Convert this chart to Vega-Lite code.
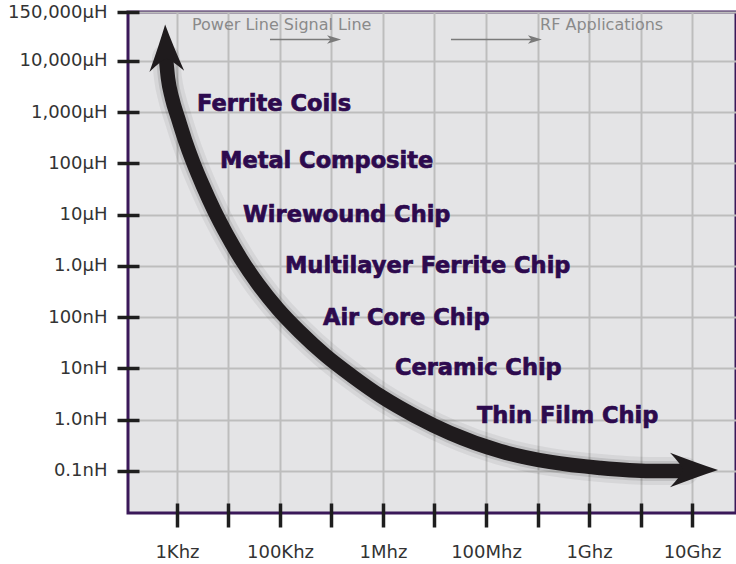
{
  "$schema": "https://vega.github.io/schema/vega-lite/v6.json",
  "autosize": {"type": "none"},
  "padding": {"left": 128, "top": 12, "right": 0, "bottom": 51},
  "width": 608,
  "height": 501,
  "background": "white",
  "datasets": {
    "curve": [
      {"x": -0.214, "y": 8.059},
      {"x": -0.175, "y": 7.668},
      {"x": -0.097, "y": 7.278},
      {"x": 0.019, "y": 6.888},
      {"x": 0.155, "y": 6.459},
      {"x": 0.311, "y": 6.029},
      {"x": 0.505, "y": 5.561},
      {"x": 0.718, "y": 5.093},
      {"x": 0.971, "y": 4.605},
      {"x": 1.243, "y": 4.137},
      {"x": 1.573, "y": 3.649},
      {"x": 1.961, "y": 3.161},
      {"x": 2.388, "y": 2.712},
      {"x": 2.874, "y": 2.263},
      {"x": 3.398, "y": 1.854},
      {"x": 3.981, "y": 1.444},
      {"x": 4.621, "y": 1.073},
      {"x": 5.301, "y": 0.741},
      {"x": 6.272, "y": 0.39},
      {"x": 7.243, "y": 0.176},
      {"x": 8.214, "y": 0.059},
      {"x": 9.184, "y": 0.0},
      {"x": 9.864, "y": 0.0}
    ],
    "heads": [
      {"end": "top", "x": -0.214, "y": 8.254},
      {"end": "bottom", "x": 10.039, "y": 0.02}
    ],
    "labels": [
      {"label": "Ferrite Coils", "x": 0.388, "y": 7.02},
      {"label": "Metal Composite", "x": 0.835, "y": 5.91},
      {"label": "Wirewound Chip", "x": 1.282, "y": 4.86},
      {"label": "Multilayer Ferrite Chip", "x": 2.097, "y": 3.86},
      {"label": "Air Core Chip", "x": 2.835, "y": 2.85},
      {"label": "Ceramic Chip", "x": 4.233, "y": 1.87},
      {"label": "Thin Film Chip", "x": 5.825, "y": 0.94}
    ],
    "notes": [
      {"label": "Power Line Signal Line", "x": 0.291, "y": 8.605},
      {"label": "RF Applications", "x": 7.049, "y": 8.605}
    ],
    "noteArrows": [
      {"x": 1.806, "x2": 3.05, "y": 8.42},
      {"x": 5.32, "x2": 6.95, "y": 8.42}
    ]
  },
  "encoding": {
    "x": {
      "field": "x",
      "type": "quantitative",
      "scale": {"domain": [-0.951, 10.854], "nice": false, "zero": false},
      "axis": {
        "title": null,
        "values": [0, 1, 2, 3, 4, 5, 6, 7, 8, 9, 10],
        "labelExpr": "['1Khz','','100Khz','','1Mhz','','100Mhz','','1Ghz','','10Ghz'][datum.value]",
        "domain": false,
        "offset": -10,
        "tickSize": 24,
        "tickWidth": 3.5,
        "tickColor": "#1e1e1e",
        "labelFont": "DejaVu Sans",
        "labelFontSize": 18,
        "labelColor": "#333333",
        "labelPadding": 16,
        "labelOverlap": false,
        "grid": true,
        "gridColor": "#bdbdbd",
        "gridWidth": 2
      }
    },
    "y": {
      "field": "y",
      "type": "quantitative",
      "scale": {"domain": [-0.82, 8.956], "nice": false, "zero": false},
      "axis": {
        "title": null,
        "values": [0, 1, 2, 3, 4, 5, 6, 7, 8, 8.95],
        "labelExpr": "['0.1nH','1.0nH','10nH','100nH','1.0µH','10µH','100µH','1,000µH','10,000µH'][datum.value] || '150,000µH'",
        "domain": false,
        "offset": -11,
        "tickSize": 22,
        "tickWidth": 3.5,
        "tickColor": "#1e1e1e",
        "labelFont": "DejaVu Sans",
        "labelFontSize": 18,
        "labelColor": "#333333",
        "labelPadding": 10,
        "labelOverlap": false,
        "grid": true,
        "gridColor": "#bdbdbd",
        "gridWidth": 2
      }
    }
  },
  "layer": [
    {
      "data": {"name": "curve"},
      "mark": {"type": "line", "interpolate": "monotone", "strokeWidth": 28, "color": "#000000", "opacity": 0.06, "strokeCap": "round"}
    },
    {
      "data": {"name": "curve"},
      "mark": {"type": "line", "interpolate": "monotone", "strokeWidth": 20, "color": "#000000", "opacity": 0.1, "strokeCap": "round"}
    },
    {
      "data": {"name": "curve"},
      "mark": {"type": "line", "interpolate": "monotone", "strokeWidth": 14.5, "color": "#1f1b1d"}
    },
    {
      "data": {"name": "heads"},
      "transform": [{"filter": "datum.end == 'top'"}],
      "mark": {"type": "point", "filled": true, "opacity": 1, "color": "#1f1b1d", "size": 2209, "angle": -92,
        "shape": "M1,0 Q0.1,-0.3 -1,-0.74 Q-0.55,-0.25 -0.45,0 Q-0.55,0.25 -1,0.74 Q0.1,0.3 1,0 Z"}
    },
    {
      "data": {"name": "heads"},
      "transform": [{"filter": "datum.end == 'bottom'"}],
      "mark": {"type": "point", "filled": true, "opacity": 1, "color": "#1f1b1d", "size": 2304, "angle": 0,
        "shape": "M1,0 Q0.1,-0.3 -1,-0.72 Q-0.55,-0.25 -0.45,0 Q-0.55,0.25 -1,0.72 Q0.1,0.3 1,0 Z"}
    },
    {
      "data": {"name": "labels"},
      "mark": {"type": "text", "align": "left", "baseline": "alphabetic", "font": "DejaVu Sans", "fontWeight": "bold", "fontSize": 22.5, "color": "#2d0a4e", "stroke": "#2d0a4e", "strokeWidth": 0.7},
      "encoding": {"text": {"field": "label"}}
    },
    {
      "data": {"name": "notes"},
      "mark": {"type": "text", "align": "left", "baseline": "alphabetic", "font": "DejaVu Sans", "fontSize": 16, "color": "#8a8a8a"},
      "encoding": {"text": {"field": "label"}}
    },
    {
      "data": {"name": "noteArrows"},
      "mark": {"type": "rule", "color": "#7a7a7a", "strokeWidth": 1.5},
      "encoding": {"x2": {"field": "x2"}}
    },
    {
      "data": {"name": "noteArrows"},
      "mark": {"type": "point", "filled": true, "opacity": 1, "color": "#7a7a7a", "size": 196,
        "shape": "M1,0 L-1,-0.6 L-0.5,0 L-1,0.6 Z"},
      "encoding": {"x": {"field": "x2", "type": "quantitative"}}
    }
  ],
  "config": {
    "view": {"stroke": "#3a1859", "strokeWidth": 3, "fill": "#e4e4e6"}
  }
}
